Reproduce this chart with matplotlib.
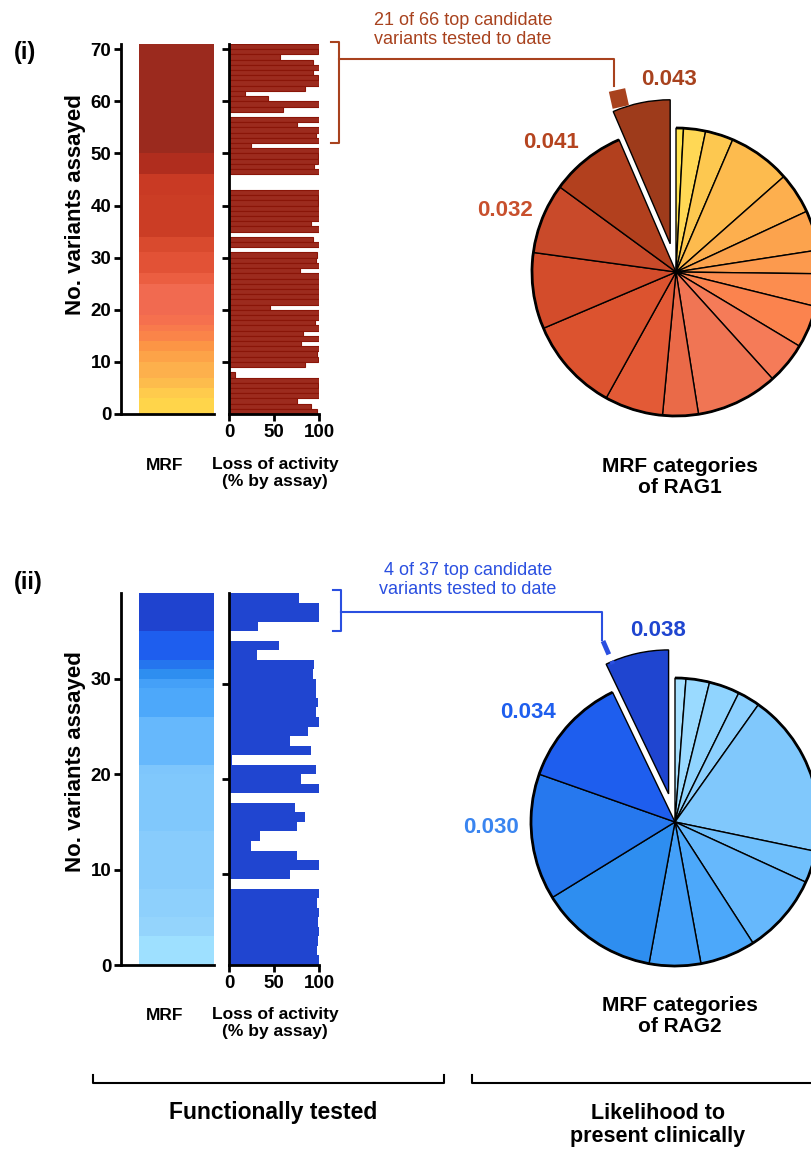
import numpy as np
import matplotlib
matplotlib.use('Agg')
import matplotlib.pyplot as plt
from matplotlib.lines import Line2D
from matplotlib.patches import Arc

plt.rcParams['font.family'] = ['Liberation Sans', 'DejaVu Sans']
plt.rcParams['font.weight'] = 'bold'

W, H = 811, 1155

# ---------------- data ----------------
# (i) RAG1: loss of activity (% by assay) per variant, from top (highest MRF) to bottom
rag1_loss = [100, 99, 57, 93, 100, 93, 99, 100, 84, 18,
             43, 100, 60, 0, 100, 76, 100, 97, 100, 24,
             100, 99, 99, 94, 100, 0, 0, 0, 100, 99,
             99, 100, 100, 100, 91, 100, 0, 93, 100, 0,
             98, 97, 100, 79, 100, 100, 100, 100, 100, 100,
             46, 100, 100, 96, 100, 82, 100, 80, 100, 98,
             99, 84, 0, 7, 100, 99, 100, 100, 75, 91, 98]
# MRF bands of the heat column (variant counts, bottom to top)
rag1_mrf_edges = [0, 3, 5, 7, 10, 12, 14, 16, 17, 19, 25, 27, 31, 34, 42, 46, 50, 71]
# pie: share of each MRF category (degrees), clockwise from 12 o'clock
rag1_pie = [3.0, 8.9, 11.3, 25.3, 16.6, 16.1, 9.5, 13.2, 17.1, 16.9,
            33.1, 14.4, 23.6, 38.0, 30.8, 28.4, 30.5, 23.3]
rag1_pie_labels = ['0.032', '0.041', '0.043']

# (ii) RAG2
rag2_loss = [78, 100, 100, 32, 1, 56, 31, 94, 93, 97,
             97, 99, 97, 100, 88, 68, 91, 3, 97, 80,
             100, 0, 73, 84, 76, 34, 24, 75, 100, 68,
             0, 100, 98, 100, 99, 100, 99, 98, 100]
rag2_mrf_edges = [0, 3, 5, 8, 14, 20, 21, 26, 29, 30, 31, 32, 35, 39]
rag2_pie = [4.4, 9.5, 12.4, 9.1, 66.4, 12.9, 32.5, 22.4, 20.8, 48.0, 51.0, 44.9, 25.7]
rag2_pie_labels = ['0.030', '0.034', '0.038']

# ---------------- colours ----------------
rag1_heat_colors = ['#FFD54A', '#FFCB4C', '#FDBC4C', '#FDB04C', '#FDA348', '#FC9545',
                    '#FA8449', '#F87A4C', '#F5704E', '#F16A50', '#EB5E41', '#E25236',
                    '#D94A2E', '#CB3D25', '#C93A24', '#B02D1E', '#9B2A1E']
rag1_pie_colors = ['#FFE44E', '#FFD855', '#FDC850', '#FDBB4E', '#FDAF4E', '#FCA34D',
                   '#FC9A4E', '#FC8D4F', '#FB834E', '#F57B58', '#F07554', '#EA6A48',
                   '#E35A36', '#DC532F', '#D34C2B', '#C94A2A', '#B2401E', '#9E3B1B']
rag1_label_colors = ['#C8502D', '#B5441F', '#A8421E']

rag2_heat_colors = ['#9EE0FF', '#94D4FC', '#8ED0FC', '#88CCFC', '#80C8FC', '#7EC6FC',
                    '#66B8FC', '#4DA8FA', '#44A0F8', '#2E8EF0', '#2575EE', '#1E5EEE', '#1F43CF']
rag2_pie_colors = ['#A6E0FF', '#9ADAFF', '#90D4FE', '#8CD0FE', '#80C8FC', '#70C0FC',
                   '#66B8FC', '#4CA8FA', '#44A0F8', '#2E8EF0', '#2678EE', '#1E5EEE', '#1F45D0']
rag2_label_colors = ['#3A85F0', '#1E5EEE', '#1F45D0']

fig = plt.figure(figsize=(W / 100, H / 100), dpi=100)


def px_rect(left, top, right, bottom):
    return [left / W, 1 - bottom / H, (right - left) / W, (bottom - top) / H]


def fig_line(xs, ys, **kw):
    fig.add_artist(Line2D([x / W for x in xs], [1 - y / H for y in ys],
                          transform=fig.transFigure, **kw))


def fig_text(x, y, s, **kw):
    fig.text(x / W, 1 - y / H, s, **kw)


def style_axis(ax):
    for side in ['top', 'right']:
        ax.spines[side].set_visible(False)
    for side in ['left', 'bottom']:
        ax.spines[side].set_linewidth(2)
    ax.tick_params(direction='out', length=5, width=2, labelsize=13.5, pad=2)


def draw_panel(top, bottom, loss, edges, heat_colors, bar_color, bar_edge, tick_shift):
    n = len(loss)
    # heat column of MRF
    ax_h = fig.add_axes(px_rect(121, top, 214, bottom))
    ax_h.bar(0.597, np.diff(edges), bottom=edges[:-1], width=0.806,
             color=heat_colors, linewidth=0)
    ax_h.set_xlim(0, 1)
    ax_h.set_ylim(0, n)
    ax_h.set_xticks([])
    ax_h.set_yticks(np.arange(0, n, 10))
    style_axis(ax_h)

    # loss of activity bars
    ax_b = fig.add_axes(px_rect(229, top, 319, bottom))
    ypos = n - 0.5 - np.arange(n)
    ax_b.barh(ypos, loss, height=1.0, color=bar_color, edgecolor=bar_edge,
              linewidth=0.8 if bar_edge != bar_color else 0)
    ax_b.set_xlim(0, 100)
    ax_b.set_ylim(0, n)
    ax_b.set_xticks([0, 50, 100])
    ax_b.set_yticks(np.arange(10, n, 10) - tick_shift)
    ax_b.set_yticklabels([])
    style_axis(ax_b)
    return ax_h, ax_b


def draw_pie(cx, cy, sizes, colors, labels, label_colors, label_pos):
    half = 1.3 * 144
    ax = fig.add_axes(px_rect(cx - half, cy - half, cx + half, cy + half))
    explode = [0] * (len(sizes) - 1) + [0.2]
    ax.pie(sizes, colors=colors, startangle=90, counterclock=False, explode=explode,
           wedgeprops=dict(edgecolor='black', linewidth=1.0))
    main = sum(sizes[:-1])
    ax.add_patch(Arc((0, 0), 2, 2, theta1=90 - main + 360, theta2=450,
                     color='black', linewidth=2))
    for s, c, (lx, ly) in zip(labels, label_colors, label_pos):
        ax.text(lx, ly, s, color=c, fontsize=16, fontweight='bold',
                ha='center', va='center')
    ax.set_xlim(-1.3, 1.3)
    ax.set_ylim(-1.3, 1.3)
    ax.set_aspect('equal')
    ax.axis('off')


# ---------------- panel (i) ----------------
draw_panel(44, 414, rag1_loss, rag1_mrf_edges, rag1_heat_colors, '#9C2B1E', '#8A1508', 0)
draw_pie(676, 272, rag1_pie, rag1_pie_colors, rag1_pie_labels, rag1_label_colors,
         [(-1.19, 0.43), (-0.87, 0.90), (-0.05, 1.34)])

fig_text(14, 52, '(i)', fontsize=17, ha='left', va='center')
fig_text(75, 205, 'No. variants assayed', fontsize=16, rotation=90, ha='center', va='center')
fig_text(165, 465, 'MRF', fontsize=12.5, ha='center', va='center')
fig_text(275, 473, 'Loss of activity\n(% by assay)', fontsize=12.5, ha='center', va='center',
         linespacing=1.15)
fig_text(680, 477, 'MRF categories\nof RAG1', fontsize=15, ha='center', va='center',
         linespacing=1.1)

c1 = '#A8421E'
fig_text(463, 30, '21 of 66 top candidate\nvariants tested to date', fontsize=13,
         fontweight='normal', color=c1, ha='center', va='center', linespacing=1.1)
fig_line([331, 339, 339, 331], [42, 42, 143, 143], color=c1, lw=1.5)
fig_line([339, 614, 614], [59, 59, 86], color=c1, lw=1.5)
fig_line([620.8, 617.0], [107, 90], color=c1, lw=12, solid_capstyle='butt')

# ---------------- panel (ii) ----------------
draw_panel(593, 965, rag2_loss, rag2_mrf_edges, rag2_heat_colors, '#2045D0', '#2045D0', 0.5)
draw_pie(675, 822, rag2_pie, rag2_pie_colors, rag2_pie_labels, rag2_label_colors,
         [(-1.28, -0.04), (-1.02, 0.76), (-0.12, 1.33)])

fig_text(14, 583, '(ii)', fontsize=17, ha='left', va='center')
fig_text(75, 762, 'No. variants assayed', fontsize=16, rotation=90, ha='center', va='center')
fig_text(165, 1015, 'MRF', fontsize=12.5, ha='center', va='center')
fig_text(275, 1023, 'Loss of activity\n(% by assay)', fontsize=12.5, ha='center', va='center',
         linespacing=1.15)
fig_text(680, 1016, 'MRF categories\nof RAG2', fontsize=15, ha='center', va='center',
         linespacing=1.1)

c2 = '#2A4FE0'
fig_text(468, 580, '4 of 37 top candidate\nvariants tested to date', fontsize=13,
         fontweight='normal', color=c2, ha='center', va='center', linespacing=1.1)
fig_line([333, 341, 341, 333], [590, 590, 631, 631], color=c2, lw=1.5)
fig_line([341, 602, 602], [612, 612, 640], color=c2, lw=1.5)
fig_line([603, 613], [641, 664], color=c2, lw=3.5, linestyle=(0, (3, 1.5)))

# ---------------- bottom brackets ----------------
fig_line([93, 93, 444, 444], [1075, 1083, 1083, 1075], color='black', lw=1.5)
fig_line([472, 472, 811], [1075, 1083, 1083], color='black', lw=1.5)
fig_text(273, 1113, 'Functionally tested', fontsize=16.5, ha='center', va='center')
fig_text(658, 1125, 'Likelihood to\npresent clinically', fontsize=15.5, ha='center', va='center',
         linespacing=1.1)

fig.savefig('out.png', dpi=100)
